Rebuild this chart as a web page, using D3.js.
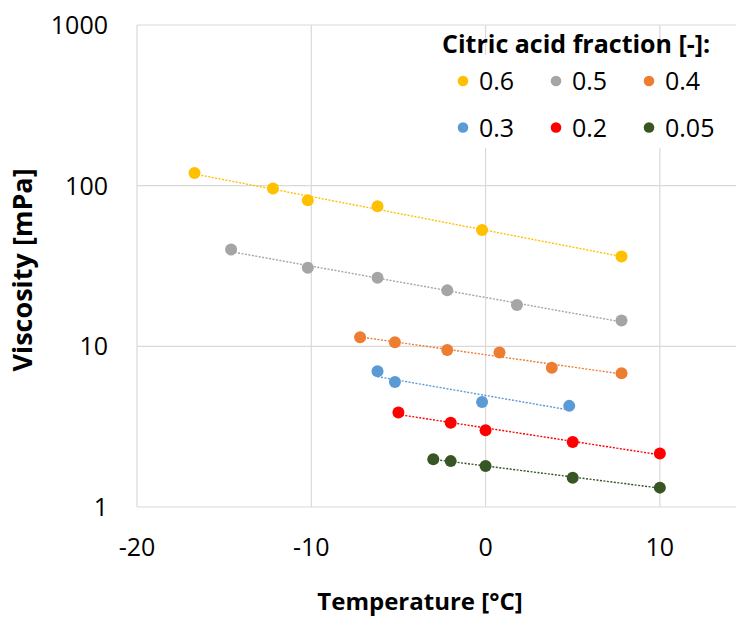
<!DOCTYPE html>
<html>
<head>
<meta charset="utf-8">
<script src="https://cdn.jsdelivr.net/npm/d3@7"></script>
<style>
  body { margin: 0; background: #fff; }
  svg { display: block; font-family: "Open Sans", "Liberation Sans", sans-serif; }
</style>
</head>
<body>
<svg width="736" height="618"></svg>
<script>
  // citric acid fractions (legend order)
  const fractions = ['0.6', '0.5', '0.4', '0.3', '0.2', '0.05'];
  const colors = ['#FFC000', '#A5A5A5', '#ED7D31', '#5B9BD5', '#FF0000', '#375623'];

  // temperature [°C] and viscosity [mPa] per fraction
  const temp06 = [-16.7, -12.2, -10.2, -6.2, -0.2, 7.8];
  const visc06 = [120, 96, 81, 74.5, 53, 36.2];
  const temp05 = [-14.6, -10.2, -6.2, -2.2, 1.8, 7.8];
  const visc05 = [40, 30.8, 26.7, 22.3, 18.1, 14.5];
  const temp04 = [-7.2, -5.2, -2.2, 0.8, 3.8, 7.8];
  const visc04 = [11.4, 10.6, 9.5, 9.15, 7.35, 6.8];
  const temp03 = [-6.2, -5.2, -0.2, 4.8];
  const visc03 = [7.0, 6.0, 4.5, 4.26];
  const temp02 = [-5, -2, 0, 5, 10];
  const visc02 = [3.87, 3.35, 3.0, 2.54, 2.15];
  const temp005 = [-3, -2, 0, 5, 10];
  const visc005 = [1.98, 1.93, 1.80, 1.52, 1.32];

  const xTicks = [-20, -10, 0, 10];
  const yTicks = [1, 10, 100, 1000];

  const temps = [temp06, temp05, temp04, temp03, temp02, temp005];
  const viscs = [visc06, visc05, visc04, visc03, visc02, visc005];

  const series = fractions.map((f, i) => ({
    name: f,
    color: colors[i],
    points: temps[i].map((t, j) => ({ t, v: viscs[i][j] }))
  }));

  const svg = d3.select('svg');

  const x = d3.scaleLinear().domain([-20, 15]).range([137, 747]);
  const y = d3.scaleLog().domain([1, 1000]).range([507, 25]);

  // grid
  const grid = svg.append('g').attr('stroke', '#d9d9d9').attr('stroke-width', 1.2);
  grid.selectAll('.vg').data(xTicks.slice(1))
    .enter().append('line')
      .attr('x1', d => x(d)).attr('x2', d => x(d))
      .attr('y1', y(1000)).attr('y2', y(1));
  grid.selectAll('.hg').data(yTicks)
    .enter().append('line')
      .attr('x1', x(-20)).attr('x2', 736)
      .attr('y1', d => y(d)).attr('y2', d => y(d));
  grid.append('line')
    .attr('x1', x(-20)).attr('x2', x(-20))
    .attr('y1', y(1000)).attr('y2', y(1));

  // legend background (covers grid)
  svg.append('rect')
    .attr('x', 450).attr('y', 55).attr('width', 282).attr('height', 93)
    .attr('fill', '#fff');

  // tick labels
  svg.append('g').selectAll('text').data(yTicks)
    .enter().append('text')
      .attr('x', 108)
      .attr('y', d => y(d))
      .attr('dy', '0.36em')
      .attr('text-anchor', 'end')
      .attr('font-size', 25)
      .attr('fill', '#000')
      .text(d => d);

  svg.append('g').selectAll('text').data(xTicks)
    .enter().append('text')
      .attr('x', d => x(d))
      .attr('y', 556)
      .attr('text-anchor', 'middle')
      .attr('font-size', 25)
      .attr('fill', '#000')
      .text(d => d);

  // axis titles
  svg.append('text')
    .attr('transform', 'translate(32,270) rotate(-90)')
    .attr('text-anchor', 'middle')
    .attr('font-size', 27)
    .attr('font-weight', 'bold')
    .text('Viscosity [mPa]');

  svg.append('text')
    .attr('x', 420).attr('y', 610)
    .attr('text-anchor', 'middle')
    .attr('font-size', 24)
    .attr('font-weight', 'bold')
    .text('Temperature [°C]');

  // exponential trendlines (least squares on log10 v)
  const fit = pts => {
    const mx = d3.mean(pts, p => p.t);
    const my = d3.mean(pts, p => Math.log10(p.v));
    const sxy = d3.sum(pts, p => (p.t - mx) * (Math.log10(p.v) - my));
    const sxx = d3.sum(pts, p => (p.t - mx) * (p.t - mx));
    const b = sxy / sxx;
    const a = my - b * mx;
    const ext = d3.extent(pts, p => p.t);
    return ext.map(t => ({ t, v: Math.pow(10, a + b * t) }));
  };

  const line = d3.line().x(d => x(d.t)).y(d => y(d.v));

  const seriesG = svg.append('g').selectAll('g').data(series)
    .enter().append('g');

  seriesG.append('path')
    .attr('d', d => line(fit(d.points)))
    .attr('fill', 'none')
    .attr('stroke', d => d.color)
    .attr('stroke-width', 1.4)
    .attr('stroke-dasharray', '2,1.5');

  seriesG.selectAll('circle').data(d => d.points.map(p => ({ ...p, color: d.color })))
    .enter().append('circle')
      .attr('cx', d => x(d.t))
      .attr('cy', d => y(d.v))
      .attr('r', 6)
      .attr('fill', d => d.color);

  // legend
  svg.append('text')
    .attr('x', 442).attr('y', 53)
    .attr('font-size', 25)
    .attr('font-weight', 'bold')
    .text('Citric acid fraction [-]:');

  const legend = svg.append('g').selectAll('g').data(series)
    .enter().append('g')
      .attr('transform', (d, i) =>
        `translate(${463 + (i % 3) * 93}, ${i < 3 ? 81 : 127.5})`);

  legend.append('circle')
    .attr('r', 5.3)
    .attr('fill', d => d.color);

  legend.append('text')
    .attr('x', 16)
    .attr('dy', '0.36em')
    .attr('font-size', 25)
    .text(d => d.name);
</script>
</body>
</html>
